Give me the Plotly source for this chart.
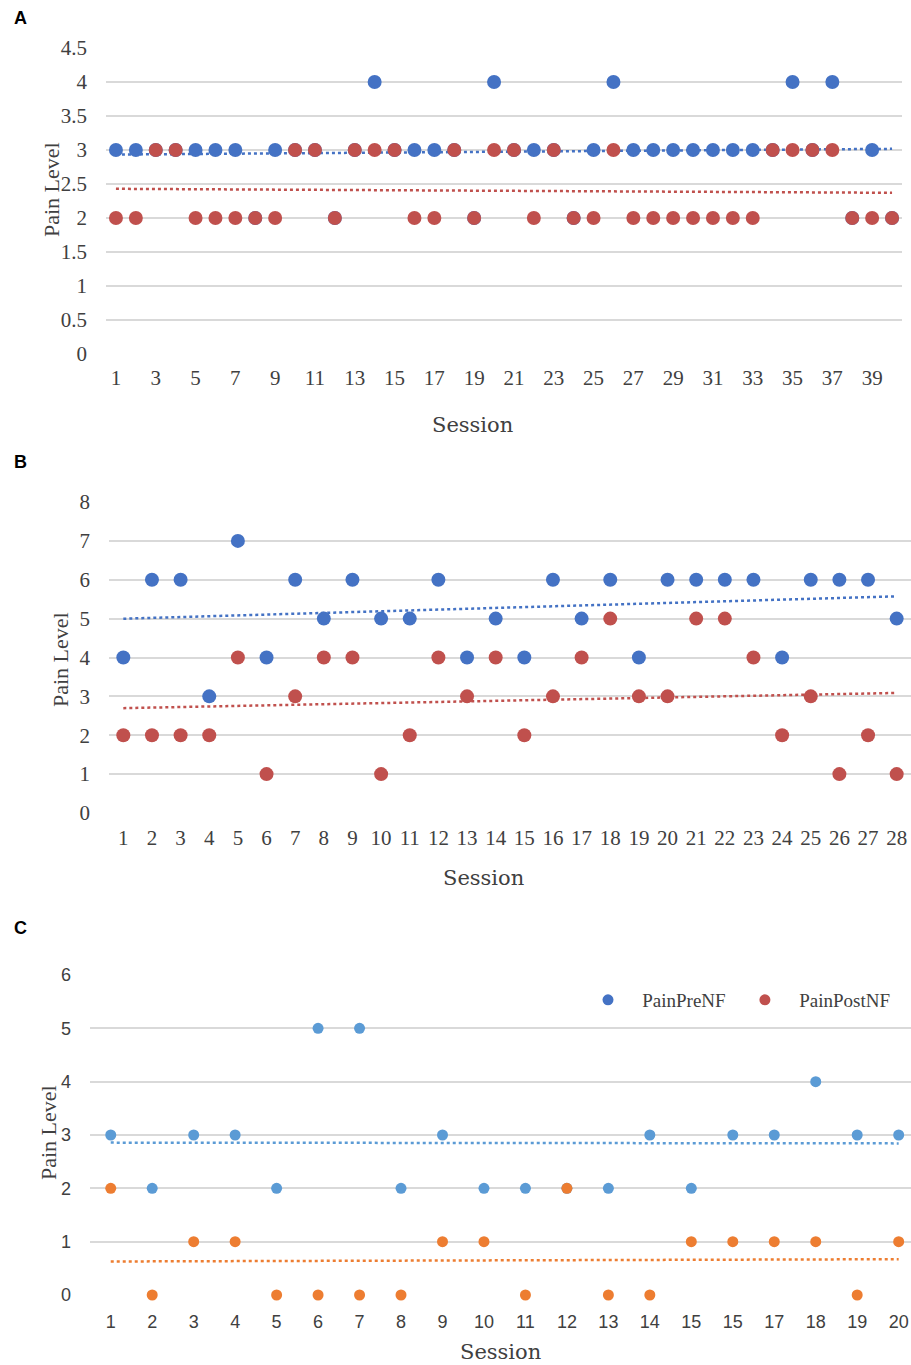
import numpy as np
import plotly.graph_objects as go

# ---------------- Data ----------------
# Panel A
sessions_a = list(range(1, 41))
pre_a = [3, 3, 3, 3, 3, 3, 3, 2, 3, 3, 3, 2, 3, 4, 3, 3, 3, 3, 2, 4,
         3, 3, 3, 2, 3, 4, 3, 3, 3, 3, 3, 3, 3, 3, 4, 3, 4, 2, 3, 2]
post_a = [2, 2, 3, 3, 2, 2, 2, 2, 2, 3, 3, 2, 3, 3, 3, 2, 2, 3, 2, 3,
          3, 2, 3, 2, 2, 3, 2, 2, 2, 2, 2, 2, 2, 3, 3, 3, 3, 2, 2, 2]
ticks_a = list(range(1, 41, 2))
yticks_a = [0, 0.5, 1, 1.5, 2, 2.5, 3, 3.5, 4, 4.5]
yticklabels_a = ["0", "0.5", "1", "1.5", "2", "2.5", "3", "3.5", "4", "4.5"]

# Panel B
sessions_b = list(range(1, 29))
pre_b = [4, 6, 6, 3, 7, 4, 6, 5, 6, 5, 5, 6, 4, 5, 4, 6, 5, 6, 4, 6,
         6, 6, 6, 4, 6, 6, 6, 5]
post_b = [2, 2, 2, 2, 4, 1, 3, 4, 4, 1, 2, 4, 3, 4, 2, 3, 4, 5, 3, 3,
          5, 5, 4, 2, 3, 1, 2, 1]
yticks_b = [0, 1, 2, 3, 4, 5, 6, 7, 8]

# Panel C
sessions_c = list(range(1, 21))
pre_c = [3, 2, 3, 3, 2, 5, 5, 2, 3, 2, 2, 2, 2, 3, 2, 3, 3, 4, 3, 3]
post_c = [2, 0, 1, 1, 0, 0, 0, 0, 1, 1, 0, 2, 0, 0, 1, 1, 1, 1, 0, 1]
ticklabels_c = ["1", "2", "3", "4", "5", "6", "7", "8", "9", "10", "11", "12",
                "13", "14", "15", "15", "17", "18", "19", "20"]
yticks_c = [0, 1, 2, 3, 4, 5, 6]
legend_names = ["PainPreNF", "PainPostNF"]

# ---------------- Styles ----------------
BLUE = "#4472C4"
RED = "#C0504D"
BLUE_C = "#5B9BD5"
ORANGE_C = "#ED7D31"
GRID = "#D9D9D9"
TXT = "#404040"
SERIF = "Liberation Serif"
SLAB = "DejaVu Serif"
SANS = "Liberation Sans"
NB = "\u00a0"

W, H = 911, 1365


def px_x(p):
    return p / W


def px_y(p):
    return 1 - p / H


fig = go.Figure()


def trend(x, y):
    x = np.asarray(x, float)
    y = np.asarray(y, float)
    m, b = np.polyfit(x, y, 1)
    xs = np.array([x[0], x[-1]])
    return xs, m * xs + b


def add_panel(xs, pre, post, xa, ya, c_pre, c_post, msize):
    for yv, col in ((pre, c_pre), (post, c_post)):
        tx, ty = trend(xs, yv)
        fig.add_trace(go.Scatter(x=tx, y=ty, mode="lines", xaxis=xa, yaxis=ya,
                                 line=dict(color=col, width=2.5, dash="dot"),
                                 showlegend=False, hoverinfo="skip"))
    fig.add_trace(go.Scatter(x=xs, y=pre, mode="markers", xaxis=xa, yaxis=ya,
                             marker=dict(color=c_pre, size=msize),
                             cliponaxis=False, showlegend=False))
    fig.add_trace(go.Scatter(x=xs, y=post, mode="markers", xaxis=xa, yaxis=ya,
                             marker=dict(color=c_post, size=msize),
                             cliponaxis=False, showlegend=False))


add_panel(sessions_a, pre_a, post_a, "x", "y", BLUE, RED, 14)
add_panel(sessions_b, pre_b, post_b, "x2", "y2", BLUE, RED, 14)
add_panel(sessions_c, pre_c, post_c, "x3", "y3", BLUE_C, ORANGE_C, 11)

# legend entries for panel C (as in the original, with Excel's default colours)
fig.add_trace(go.Scatter(x=[None], y=[None], mode="markers", xaxis="x3", yaxis="y3",
                         marker=dict(color=BLUE, size=11),
                         name=NB * 3 + legend_names[0] + NB * 3))
fig.add_trace(go.Scatter(x=[None], y=[None], mode="markers", xaxis="x3", yaxis="y3",
                         marker=dict(color=RED, size=11),
                         name=NB * 3 + legend_names[1]))

common_x = dict(showgrid=False, zeroline=False, showline=False, ticks="",
                automargin=False)
common_y = dict(showgrid=True, gridcolor=GRID, gridwidth=1.5, zeroline=False,
                showline=False, ticks="", automargin=False, ticklabelstandoff=18)

fig.update_layout(
    width=W, height=H, margin=dict(l=0, r=0, t=0, b=0, autoexpand=False),
    paper_bgcolor="white", plot_bgcolor="white",
    font=dict(family=SERIF, color=TXT),
    xaxis=dict(domain=[px_x(106), px_x(902)], range=[0.5, 40.5], anchor="y",
               tickmode="array", tickvals=ticks_a, ticktext=[str(t) for t in ticks_a],
               tickfont=dict(family=SERIF, size=21, color=TXT),
               ticklabelstandoff=9, **common_x),
    yaxis=dict(domain=[px_y(354), px_y(48)], range=[0, 4.5], anchor="x",
               tickmode="array", tickvals=yticks_a, ticktext=yticklabels_a,
               tickfont=dict(family=SERIF, size=21, color=TXT), **common_y),
    xaxis2=dict(domain=[px_x(109), 1.0], range=[0.5, 28.5], anchor="y2",
                tickmode="array", tickvals=sessions_b,
                ticktext=[str(t) for t in sessions_b],
                tickfont=dict(family=SERIF, size=21, color=TXT),
                ticklabelstandoff=10, **common_x),
    yaxis2=dict(domain=[px_y(813), px_y(502)], range=[0, 8], anchor="x2",
                tickmode="array", tickvals=yticks_b,
                ticktext=[str(t) for t in yticks_b],
                tickfont=dict(family=SERIF, size=21, color=TXT), **common_y),
    xaxis3=dict(domain=[px_x(90), 1.0], range=[0.5, 0.5 + (911 - 90) / 41.47],
                anchor="y3", tickmode="array", tickvals=sessions_c,
                ticktext=ticklabels_c,
                tickfont=dict(family=SANS, size=18, color=TXT),
                ticklabelstandoff=14, **common_x),
    yaxis3=dict(domain=[px_y(1295), px_y(975)], range=[0, 6], anchor="x3",
                tickmode="array", tickvals=yticks_c,
                ticktext=[str(t) for t in yticks_c],
                tickfont=dict(family=SANS, size=18, color=TXT), **common_y),
    legend=dict(orientation="h", x=px_x(588), y=px_y(1000), xanchor="left",
                yanchor="middle", font=dict(family=SERIF, size=19, color=TXT),
                bgcolor="rgba(0,0,0,0)", itemwidth=30, tracegroupgap=0),
    showlegend=True,
)

# axis titles & panel letters
annots = [
    dict(text="Session", x=px_x(472), y=px_y(425), font=dict(family=SLAB, size=21, color=TXT)),
    dict(text="Session", x=px_x(483), y=px_y(878), font=dict(family=SLAB, size=21, color=TXT)),
    dict(text="Session", x=px_x(500), y=px_y(1352), font=dict(family=SLAB, size=21, color=TXT)),
    dict(text="Pain Level", x=px_x(52), y=px_y(190), textangle=-90,
         font=dict(family=SERIF, size=22, color=TXT)),
    dict(text="Pain Level", x=px_x(60), y=px_y(660), textangle=-90,
         font=dict(family=SERIF, size=22, color=TXT)),
    dict(text="Pain Level", x=px_x(48), y=px_y(1133), textangle=-90,
         font=dict(family=SERIF, size=22, color=TXT)),
    dict(text="<b>A</b>", x=px_x(12), y=px_y(18), xanchor="left",
         font=dict(family="Liberation Sans", size=18, color="black")),
    dict(text="<b>B</b>", x=px_x(12), y=px_y(462), xanchor="left",
         font=dict(family="Liberation Sans", size=18, color="black")),
    dict(text="<b>C</b>", x=px_x(12), y=px_y(928), xanchor="left",
         font=dict(family="Liberation Sans", size=18, color="black")),
]
for a in annots:
    a.setdefault("xanchor", "center")
    a.update(xref="paper", yref="paper", yanchor="middle", showarrow=False)
    fig.add_annotation(**a)

fig.write_html("out.html")
